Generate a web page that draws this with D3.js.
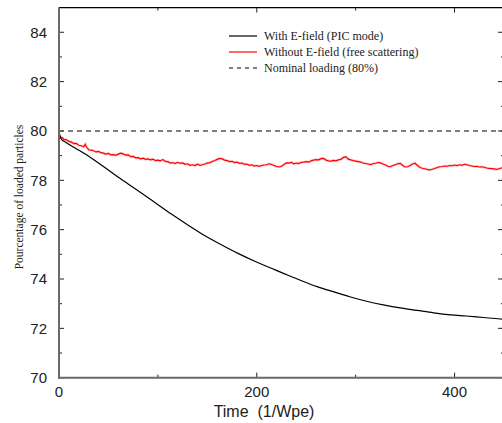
<!DOCTYPE html>
<html>
<head>
<meta charset="utf-8">
<script src="https://cdn.jsdelivr.net/npm/d3@7"></script>
<style>
  body { margin: 0; background: #fff; }
  svg { display: block; }
</style>
</head>
<body>
<svg id="chart" width="502" height="423"></svg>
<script>
// axis settings
var xTicks = [0, 200, 400];
var xMinor = [100, 300];
var yTicks = [70, 72, 74, 76, 78, 80, 82, 84];
var yMinor = [71, 73, 75, 77, 79, 81, 83];
var nominal = 80;

var legendNames = ["With E-field (PIC mode)", "Without E-field (free scattering)", "Nominal loading (80%)"];

// With E-field (PIC mode): [time, percent]
var picData = [
    [0, 79.95], [1, 79.78], [3, 79.64], [6, 79.56], [15, 79.34], [30, 78.98], [46, 78.53],
    [63, 78.04], [80, 77.58], [97, 77.1], [114, 76.62], [131, 76.17], [148, 75.74],
    [165, 75.37], [181, 75.04], [198, 74.72], [218, 74.38], [227, 74.23], [244, 73.95],
    [261, 73.69], [278, 73.48], [294, 73.28], [311, 73.1], [328, 72.95], [345, 72.83],
    [362, 72.73], [379, 72.63], [396, 72.55], [412, 72.5], [429, 72.44], [446, 72.38], [450, 72.37]
];

// Without E-field (free scattering): [time, percent]
var freeData = [
    [0, 79.88], [1, 79.8], [2, 79.74], [3.5, 79.72], [5, 79.66], [7.5, 79.64], [10, 79.58],
    [12.5, 79.55], [15, 79.49], [17.5, 79.5], [20, 79.42], [22.5, 79.4], [25, 79.36],
    [26.5, 79.46], [28, 79.34], [30, 79.24], [32.5, 79.22], [35, 79.2], [37.5, 79.15],
    [40, 79.17], [42.5, 79.12], [45, 79.1], [47.5, 79.06], [50, 79.09], [52.5, 79.03],
    [55, 79.04], [57.5, 79.01], [60, 79.06], [62.5, 79.1], [65, 79.07], [67.5, 79.02],
    [70, 79.03], [72.5, 78.96], [75, 78.97], [77.5, 78.91], [80, 78.92], [82.5, 78.87],
    [85, 78.9], [87.5, 78.85], [90, 78.87], [92.5, 78.83], [95, 78.86], [97.5, 78.8],
    [100, 78.82], [102.5, 78.79], [105, 78.84], [107.5, 78.77], [110, 78.76], [112.5, 78.7],
    [115, 78.72], [117.5, 78.68], [120, 78.73], [122.5, 78.69], [125, 78.71], [127.5, 78.65],
    [130, 78.67], [132.5, 78.61], [135, 78.63], [137.5, 78.6], [140, 78.65], [142.5, 78.61],
    [145, 78.63], [147.5, 78.66], [150, 78.7], [152.5, 78.72], [155, 78.76], [157.5, 78.8],
    [160, 78.85], [162.5, 78.89], [165, 78.87], [167.5, 78.82], [170, 78.8], [172.5, 78.76],
    [175, 78.77], [177.5, 78.72], [180, 78.74], [182.5, 78.69], [185, 78.7], [187.5, 78.65],
    [190, 78.66], [192.5, 78.61], [195, 78.63], [197.5, 78.58], [200, 78.6], [202.5, 78.57],
    [205, 78.6], [207.5, 78.62], [210, 78.63], [212.5, 78.67], [215, 78.64], [217.5, 78.6],
    [220, 78.56], [222.5, 78.54], [225, 78.57], [227.5, 78.64], [230, 78.71], [232.5, 78.7],
    [235, 78.73], [237.5, 78.67], [240, 78.7], [242.5, 78.68], [245, 78.73], [247.5, 78.74],
    [250, 78.76], [252.5, 78.74], [255, 78.79], [257.5, 78.82], [260, 78.84], [262.5, 78.83],
    [265, 78.88], [267.5, 78.89], [270, 78.82], [272.5, 78.79], [275, 78.78], [277.5, 78.81],
    [280, 78.79], [282.5, 78.83], [285, 78.85], [287.5, 78.92], [290, 78.96], [292.5, 78.86],
    [295, 78.83], [297.5, 78.8], [300, 78.78], [302.5, 78.76], [305, 78.74], [307.5, 78.7],
    [310, 78.68], [312.5, 78.66], [315, 78.64], [317.5, 78.67], [320, 78.69], [322.5, 78.72],
    [325, 78.71], [327.5, 78.66], [330, 78.62], [332.5, 78.57], [335, 78.55], [337.5, 78.6],
    [340, 78.63], [342.5, 78.67], [345, 78.69], [347.5, 78.6], [350, 78.54], [352.5, 78.55],
    [355, 78.6], [357.5, 78.66], [360, 78.69], [362.5, 78.6], [365, 78.52], [367.5, 78.49],
    [370, 78.47], [372.5, 78.44], [375, 78.42], [377.5, 78.45], [380, 78.48], [382.5, 78.52],
    [385, 78.55], [387.5, 78.56], [390, 78.58], [392.5, 78.57], [395, 78.6], [397.5, 78.59],
    [400, 78.62], [402.5, 78.6], [405, 78.63], [407.5, 78.61], [410, 78.65], [412.5, 78.63],
    [415, 78.6], [417.5, 78.58], [420, 78.56], [422.5, 78.57], [425, 78.54], [427.5, 78.55],
    [430, 78.53], [432.5, 78.5], [435, 78.48], [437.5, 78.47], [440, 78.46], [442.5, 78.44],
    [445, 78.47], [447.5, 78.5], [450, 78.52]
];

var svg = d3.select("#chart");

var mLeft = 59, mRight = 504, mTop = 7.6, mBottom = 377.7;

var x = d3.scaleLinear().domain([0, 450]).range([mLeft, mRight]);
var y = d3.scaleLinear().domain([70, 85]).range([mBottom, mTop]);

// clip for data lines
svg.append("clipPath").attr("id", "clip")
    .append("rect")
    .attr("x", mLeft).attr("y", mTop)
    .attr("width", mRight - mLeft).attr("height", mBottom - mTop);

// frame: top and right in black, left and bottom gray
svg.append("line").attr("x1", mLeft).attr("x2", mRight).attr("y1", mTop).attr("y2", mTop)
    .attr("stroke", "#000").attr("stroke-width", 1.2);
svg.append("line").attr("x1", mRight).attr("x2", mRight).attr("y1", mTop).attr("y2", mBottom)
    .attr("stroke", "#000").attr("stroke-width", 1.2);

// ticks on all sides, pointing inward
var tickG = svg.append("g").attr("stroke", "#222").attr("stroke-width", 1);
yTicks.forEach(function (v) {
    tickG.append("line").attr("x1", mLeft).attr("x2", mLeft + 5).attr("y1", y(v)).attr("y2", y(v));
    tickG.append("line").attr("x1", mRight - 6).attr("x2", mRight).attr("y1", y(v)).attr("y2", y(v));
});
yMinor.forEach(function (v) {
    tickG.append("line").attr("x1", mLeft).attr("x2", mLeft + 3).attr("y1", y(v)).attr("y2", y(v));
    tickG.append("line").attr("x1", mRight - 3).attr("x2", mRight).attr("y1", y(v)).attr("y2", y(v));
});
xTicks.forEach(function (v) {
    tickG.append("line").attr("x1", x(v)).attr("x2", x(v)).attr("y1", mBottom).attr("y2", mBottom - 5);
    tickG.append("line").attr("x1", x(v)).attr("x2", x(v)).attr("y1", mTop).attr("y2", mTop + 5);
});
xMinor.forEach(function (v) {
    tickG.append("line").attr("x1", x(v)).attr("x2", x(v)).attr("y1", mBottom).attr("y2", mBottom - 3);
    tickG.append("line").attr("x1", x(v)).attr("x2", x(v)).attr("y1", mTop).attr("y2", mTop + 3);
});

// nominal loading line
svg.append("line")
    .attr("x1", mLeft).attr("x2", mRight)
    .attr("y1", y(nominal)).attr("y2", y(nominal))
    .attr("stroke", "#555").attr("stroke-width", 1.5)
    .attr("stroke-dasharray", "5,4");

var line = d3.line()
    .x(function (d) { return x(d[0]); })
    .y(function (d) { return y(d[1]); });

var smoothLine = d3.line()
    .curve(d3.curveMonotoneX)
    .x(function (d) { return x(d[0]); })
    .y(function (d) { return y(d[1]); });

var plot = svg.append("g").attr("clip-path", "url(#clip)");

// free scattering: faint halo then the line
plot.append("path").datum(freeData)
    .attr("d", line).attr("fill", "none")
    .attr("stroke", "#ff9090").attr("stroke-width", 2.6).attr("stroke-opacity", 0.45);
plot.append("path").datum(freeData)
    .attr("d", line).attr("fill", "none")
    .attr("stroke", "#ff0000").attr("stroke-width", 1.2);

plot.append("path").datum(picData)
    .attr("d", smoothLine).attr("fill", "none")
    .attr("stroke", "#000").attr("stroke-width", 1.2);

// left and bottom axis lines (gray)
svg.append("line").attr("x1", mLeft).attr("x2", mLeft).attr("y1", mTop).attr("y2", mBottom + 1)
    .attr("stroke", "#6a6a6a").attr("stroke-width", 2);
svg.append("line").attr("x1", mLeft - 1).attr("x2", mRight).attr("y1", mBottom).attr("y2", mBottom)
    .attr("stroke", "#6a6a6a").attr("stroke-width", 2);

// tick labels
svg.append("g").selectAll("text")
    .data(yTicks).enter().append("text")
    .attr("x", 47).attr("y", function (d) { return y(d); })
    .attr("dy", "0.36em")
    .attr("text-anchor", "end")
    .attr("font-family", "Liberation Sans, Arial, sans-serif")
    .attr("font-size", 15).attr("fill", "#222")
    .text(function (d) { return d; });

svg.append("g").selectAll("text")
    .data(xTicks).enter().append("text")
    .attr("x", function (d) { return x(d); }).attr("y", 397)
    .attr("text-anchor", "middle")
    .attr("font-family", "Liberation Sans, Arial, sans-serif")
    .attr("font-size", 15).attr("fill", "#222")
    .text(function (d) { return d; });

// axis titles
svg.append("text")
    .attr("x", 264).attr("y", 417)
    .attr("text-anchor", "middle")
    .attr("font-family", "Liberation Sans, Arial, sans-serif")
    .attr("font-size", 16).attr("fill", "#222")
    .attr("xml:space", "preserve")
    .text("Time  (1/Wpe)");

svg.append("text")
    .attr("transform", "translate(23,197) rotate(-90)")
    .attr("text-anchor", "middle")
    .attr("font-family", "Liberation Serif, Times New Roman, serif")
    .attr("font-size", 11.5).attr("fill", "#222")
    .text("Pourcentage of loaded particles");

// legend
var legendStyles = [
    { stroke: "#000", dash: null, width: 1.2 },
    { stroke: "#ff0000", dash: null, width: 1.2 },
    { stroke: "#555", dash: "4,4", width: 1.5 }
];
var legendY = [36, 52, 68];
var legend = svg.append("g");
legendNames.forEach(function (name, i) {
    legend.append("line")
        .attr("x1", 229).attr("x2", 257)
        .attr("y1", legendY[i]).attr("y2", legendY[i])
        .attr("stroke", legendStyles[i].stroke)
        .attr("stroke-width", legendStyles[i].width)
        .attr("stroke-dasharray", legendStyles[i].dash);
    legend.append("text")
        .attr("x", 264).attr("y", legendY[i])
        .attr("dy", "0.35em")
        .attr("font-family", "Liberation Serif, Times New Roman, serif")
        .attr("font-size", 12).attr("fill", "#222")
        .text(name);
});
</script>
</body>
</html>
